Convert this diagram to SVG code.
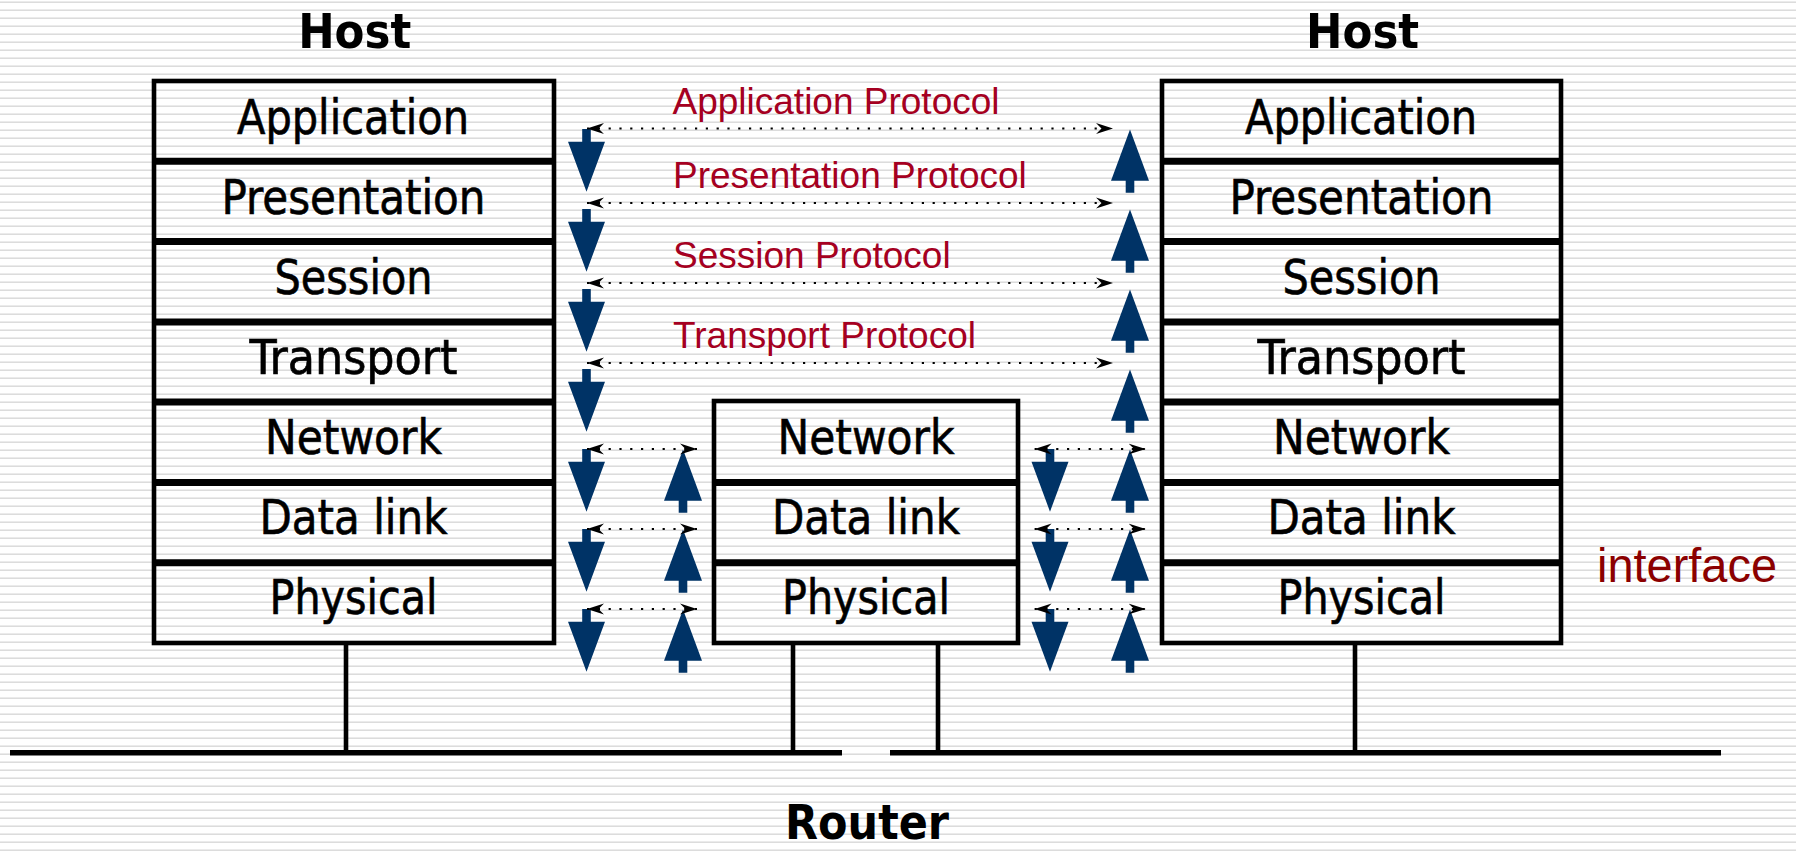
<svg xmlns="http://www.w3.org/2000/svg" width="1796" height="851" viewBox="0 0 1796 851">
<defs>
<pattern id="stripes" width="8" height="8" patternUnits="userSpaceOnUse">
<rect width="8" height="8" fill="#ffffff"/>
<rect y="1" width="8" height="1" fill="#ebebeb"/>
<rect y="2" width="8" height="1" fill="#dcdcdc"/>
</pattern>
<marker id="stealth" viewBox="0 0 18 12" refX="17" refY="6" markerWidth="18" markerHeight="12" markerUnits="userSpaceOnUse" orient="auto-start-reverse">
<path d="M17,6 L0,0.6 L5.5,6 L0,11.4 Z" fill="#000"/>
</marker>
<path id="down" d="M-4.3,0 H4.3 V12.7 H18.5 L0,62.7 L-18.5,12.7 H-4.3 Z" fill="#003366"/>
<path id="up" d="M0,0 L19,51.2 H4.3 V63.2 H-4.3 V51.2 H-19 Z" fill="#003366"/>
</defs>
<style>
.box{fill:none;stroke:#000;stroke-width:4.6}
.div{stroke:#000;stroke-width:7}
.wire{stroke:#000;stroke-width:4.6;fill:none}
.bus{stroke:#000;stroke-width:5.5}
.lbl{font-family:"DejaVu Sans Condensed","DejaVu Sans",sans-serif;font-stretch:condensed;font-size:48px;fill:#000;stroke:#000;stroke-width:0.6;text-anchor:middle}
.title{font-family:"DejaVu Sans Condensed","DejaVu Sans",sans-serif;font-stretch:condensed;font-weight:bold;font-size:48px;fill:#000;text-anchor:middle}
.proto{font-family:"Liberation Sans",Arial,sans-serif;font-size:37px;fill:#a50021}
.iface{font-family:"Liberation Sans",Arial,sans-serif;font-size:48px;fill:#8b0000}
.dot{stroke:#000;stroke-width:2.2;stroke-dasharray:2.2 8.6;fill:none;marker-start:url(#stealth);marker-end:url(#stealth)}
</style>
<rect width="1796" height="851" fill="url(#stripes)"/>

<g id="host-left">
<text class="title" x="354.7" y="48" textLength="113" lengthAdjust="spacingAndGlyphs">Host</text>
<rect class="box" x="154" y="81" width="400" height="562"/>
<line class="div" x1="154" y1="161.3" x2="554" y2="161.3"/>
<line class="div" x1="154" y1="241.6" x2="554" y2="241.6"/>
<line class="div" x1="154" y1="321.9" x2="554" y2="321.9"/>
<line class="div" x1="154" y1="402.1" x2="554" y2="402.1"/>
<line class="div" x1="154" y1="482.4" x2="554" y2="482.4"/>
<line class="div" x1="154" y1="562.7" x2="554" y2="562.7"/>
<text class="lbl" x="353" y="134" textLength="232" lengthAdjust="spacingAndGlyphs">Application</text>
<text class="lbl" x="353.5" y="214" textLength="264" lengthAdjust="spacingAndGlyphs">Presentation</text>
<text class="lbl" x="353.5" y="294" textLength="158" lengthAdjust="spacingAndGlyphs">Session</text>
<text class="lbl" x="353.5" y="374" textLength="208" lengthAdjust="spacingAndGlyphs">Transport</text>
<text class="lbl" x="353.5" y="454" textLength="177" lengthAdjust="spacingAndGlyphs">Network</text>
<text class="lbl" x="353.5" y="534" textLength="188" lengthAdjust="spacingAndGlyphs">Data link</text>
<text class="lbl" x="353.5" y="614" textLength="168" lengthAdjust="spacingAndGlyphs">Physical</text>
</g>

<g id="router">
<rect class="box" x="714" y="401" width="304" height="242"/>
<line class="div" x1="714" y1="482.4" x2="1018" y2="482.4"/>
<line class="div" x1="714" y1="562.7" x2="1018" y2="562.7"/>
<text class="lbl" x="866" y="454" textLength="177" lengthAdjust="spacingAndGlyphs">Network</text>
<text class="lbl" x="866" y="534" textLength="188" lengthAdjust="spacingAndGlyphs">Data link</text>
<text class="lbl" x="866" y="614" textLength="168" lengthAdjust="spacingAndGlyphs">Physical</text>
<text class="title" x="867" y="839" textLength="164" lengthAdjust="spacingAndGlyphs">Router</text>
</g>

<g id="host-right">
<text class="title" x="1362.6" y="48" textLength="113" lengthAdjust="spacingAndGlyphs">Host</text>
<rect class="box" x="1162" y="81" width="399" height="562"/>
<line class="div" x1="1162" y1="161.3" x2="1561" y2="161.3"/>
<line class="div" x1="1162" y1="241.6" x2="1561" y2="241.6"/>
<line class="div" x1="1162" y1="321.9" x2="1561" y2="321.9"/>
<line class="div" x1="1162" y1="402.1" x2="1561" y2="402.1"/>
<line class="div" x1="1162" y1="482.4" x2="1561" y2="482.4"/>
<line class="div" x1="1162" y1="562.7" x2="1561" y2="562.7"/>
<text class="lbl" x="1361" y="134" textLength="232" lengthAdjust="spacingAndGlyphs">Application</text>
<text class="lbl" x="1361.5" y="214" textLength="264" lengthAdjust="spacingAndGlyphs">Presentation</text>
<text class="lbl" x="1361.5" y="294" textLength="158" lengthAdjust="spacingAndGlyphs">Session</text>
<text class="lbl" x="1361.5" y="374" textLength="208" lengthAdjust="spacingAndGlyphs">Transport</text>
<text class="lbl" x="1361.5" y="454" textLength="177" lengthAdjust="spacingAndGlyphs">Network</text>
<text class="lbl" x="1361.5" y="534" textLength="188" lengthAdjust="spacingAndGlyphs">Data link</text>
<text class="lbl" x="1361.5" y="614" textLength="168" lengthAdjust="spacingAndGlyphs">Physical</text>
</g>

<g id="network">
<line class="wire" x1="346" y1="643" x2="346" y2="752.7"/>
<line class="wire" x1="793" y1="643" x2="793" y2="752.7"/>
<line class="wire" x1="938" y1="643" x2="938" y2="752.7"/>
<line class="wire" x1="1355" y1="643" x2="1355" y2="752.7"/>
<line class="bus" x1="10" y1="752.7" x2="842" y2="752.7"/>
<line class="bus" x1="890" y1="752.7" x2="1721" y2="752.7"/>
</g>

<g id="connectors">
<g id="flow-arrows">
<use href="#down" x="586.5" y="129"/>
<use href="#down" x="586.5" y="209"/>
<use href="#down" x="586.5" y="289"/>
<use href="#down" x="586.5" y="369"/>
<use href="#down" x="586.5" y="449"/>
<use href="#down" x="586.5" y="529"/>
<use href="#down" x="586.5" y="609"/>
<use href="#up" x="1130" y="129.5"/>
<use href="#up" x="1130" y="209.5"/>
<use href="#up" x="1130" y="289.5"/>
<use href="#up" x="1130" y="369.5"/>
<use href="#up" x="1130" y="449.5"/>
<use href="#up" x="1130" y="529.5"/>
<use href="#up" x="1130" y="609.5"/>
<use href="#up" x="683" y="449.5"/>
<use href="#up" x="683" y="529.5"/>
<use href="#up" x="683" y="609.5"/>
<use href="#down" x="1050" y="449"/>
<use href="#down" x="1050" y="529"/>
<use href="#down" x="1050" y="609"/>
</g>
<g id="peer-lines">
<line class="dot" x1="587" y1="128.5" x2="1113" y2="128.5"/>
<line class="dot" x1="587" y1="203" x2="1113" y2="203"/>
<line class="dot" x1="587" y1="283" x2="1113" y2="283"/>
<line class="dot" x1="587" y1="363" x2="1113" y2="363"/>
<line class="dot" x1="587" y1="449" x2="697" y2="449"/>
<line class="dot" x1="587" y1="529" x2="697" y2="529"/>
<line class="dot" x1="587" y1="609" x2="697" y2="609"/>
<line class="dot" x1="1034.6" y1="449" x2="1145.7" y2="449"/>
<line class="dot" x1="1034.6" y1="529" x2="1145.7" y2="529"/>
<line class="dot" x1="1034.6" y1="609" x2="1145.7" y2="609"/>
</g>
</g>

<g id="protocol-labels">
<text class="proto" x="672.5" y="114.3">Application Protocol</text>
<text class="proto" x="673" y="188.3">Presentation Protocol</text>
<text class="proto" x="673" y="268.3">Session Protocol</text>
<text class="proto" x="673" y="348.3">Transport Protocol</text>
</g>

<g id="interface-label">
<text class="iface" x="1597" y="582" textLength="180" lengthAdjust="spacingAndGlyphs">interface</text>
</g>
</svg>
